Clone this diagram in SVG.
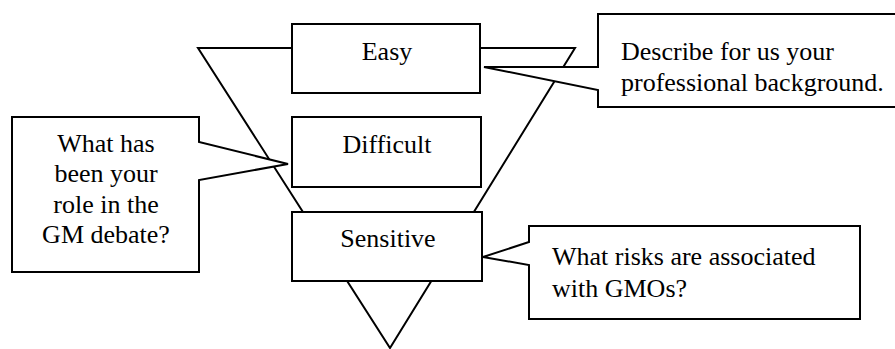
<svg xmlns="http://www.w3.org/2000/svg" width="895" height="349" viewBox="0 0 895 349">
<style>
.ln{fill:none;stroke:#000;stroke-width:2;stroke-linejoin:miter}
.bx{fill:#fff;stroke:#000;stroke-width:2}
.t{font-family:"Liberation Serif","Times New Roman",serif;font-size:26px;fill:#000}
.c{text-anchor:middle}
</style>
<rect width="895" height="349" fill="#fff"/>
<g id="connectors">
<polygon class="ln" points="198,48 575,48 390,348"/>
</g>
<g id="callout-left">
<path class="bx" d="M12,117 H199 V142 L288,164 L199,180 V272 H12 Z"/>
<text class="t c" x="106" y="152">What has</text>
<text class="t c" x="106" y="182">been your</text>
<text class="t c" x="106" y="213">role in the</text>
<text class="t c" x="106" y="243">GM debate?</text>
</g>
<g id="callout-top-right">
<path class="bx" d="M598,14 H900 V107 H598 V90 L484,67 H598 Z"/>
<text class="t" x="621" y="60">Describe for us your</text>
<text class="t" x="621" y="91">professional background.</text>
</g>
<g id="callout-bottom-right">
<path class="bx" d="M529,226 H860 V319 H529 V265 L483,257 L529,242 Z"/>
<text class="t" x="552" y="265">What risks are associated</text>
<text class="t" x="552" y="297">with GMOs?</text>
</g>
<g id="node-easy">
<rect class="bx" x="292" y="24" width="188" height="69"/>
<text class="t c" x="387" y="60">Easy</text>
</g>
<g id="node-difficult">
<rect class="bx" x="292" y="117" width="189" height="70"/>
<text class="t c" x="387" y="153">Difficult</text>
</g>
<g id="node-sensitive">
<rect class="bx" x="292" y="212" width="190" height="69"/>
<text class="t c" x="388" y="247">Sensitive</text>
</g>
</svg>
